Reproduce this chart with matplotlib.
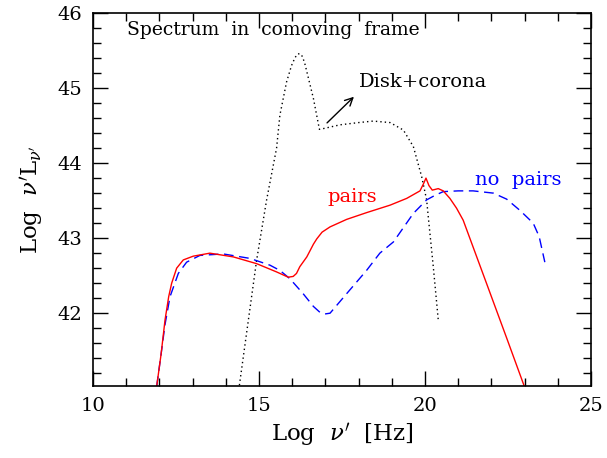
import matplotlib
matplotlib.use('Agg')
import matplotlib.pyplot as plt
from matplotlib.ticker import MultipleLocator

plt.rcParams['font.family'] = 'DejaVu Serif'
plt.rcParams['mathtext.fontset'] = 'dejavuserif'

# --- data (log nu, log nuL_nu) ---
pairs_x = [11.92, 12.05, 12.17, 12.28, 12.37, 12.52, 12.72, 13.02, 13.52, 14.23, 14.93,
           15.53, 15.88, 16.03, 16.13, 16.23, 16.44, 16.64, 16.74, 16.9, 17.14, 17.64,
           18.24, 18.95, 19.45, 19.85, 19.95, 20.03, 20.12, 20.22, 20.4, 20.55, 20.75,
           20.95, 21.15, 21.86, 22.46, 22.98]
pairs_y = [41.03, 41.45, 41.91, 42.22, 42.40, 42.60, 42.71, 42.76, 42.80, 42.75, 42.66,
           42.55, 42.48, 42.49, 42.53, 42.62, 42.75, 42.92, 42.99, 43.08, 43.15, 43.25,
           43.34, 43.44, 43.53, 43.63, 43.72, 43.80, 43.70, 43.64, 43.66, 43.63, 43.53,
           43.40, 43.24, 42.39, 41.67, 41.04]

nopairs_x = [11.92, 12.05, 12.17, 12.32, 12.57, 12.82, 13.22, 13.92, 14.73, 15.33, 15.63,
             15.93, 16.33, 16.64, 16.84, 16.99, 17.14, 17.64, 18.24, 18.64, 19.05, 19.65,
             20.05, 20.3, 20.55, 21.0, 21.45, 22.06, 22.46, 22.86, 23.26, 23.44, 23.61]
nopairs_y = [41.03, 41.45, 41.85, 42.22, 42.53, 42.68, 42.77, 42.79, 42.73, 42.64, 42.57,
             42.46, 42.26, 42.09, 42.01, 41.99, 42.00, 42.26, 42.57, 42.80, 42.95, 43.33,
             43.51, 43.57, 43.62, 43.63, 43.63, 43.60, 43.52, 43.37, 43.20, 43.02, 42.68]

disk_x = [14.41, 14.93, 15.23, 15.53, 15.63, 15.83, 15.98, 16.08, 16.15, 16.23, 16.31,
          16.39, 16.64, 16.82, 16.94, 17.44, 18.0, 18.44, 18.95, 19.35, 19.65, 19.90,
          20.05, 20.10, 20.25, 20.40]
disk_y = [41.04, 42.71, 43.51, 44.20, 44.64, 45.08, 45.30, 45.40, 45.45, 45.46, 45.42,
          45.31, 44.86, 44.45, 44.46, 44.51, 44.54, 44.56, 44.54, 44.44, 44.22, 43.82,
          43.51, 43.28, 42.62, 41.91]

fig = plt.figure(figsize=(6.07, 4.58), dpi=100)
ax = fig.add_axes([0.1532, 0.1572, 0.8204, 0.8144])

ax.plot(disk_x, disk_y, color='black', lw=1.0, linestyle=(0, (1, 2.2)))
ax.plot(nopairs_x, nopairs_y, color='blue', lw=1.0, linestyle=(0, (7, 4)))
ax.plot(pairs_x, pairs_y, color='red', lw=1.0)

ax.annotate('', xy=(17.92, 44.91), xytext=(16.99, 44.51),
            arrowprops=dict(arrowstyle='->', color='black', lw=1.0, mutation_scale=14))

ax.text(11.02, 45.77, 'Spectrum  in  comoving  frame', fontsize=13.5, va='center', ha='left')
ax.text(18.02, 45.08, 'Disk+corona', fontsize=14, va='center', ha='left')
ax.text(17.8, 43.55, 'pairs', fontsize=14, va='center', ha='center', color='red')
ax.text(21.5, 43.77, 'no  pairs', fontsize=14, va='center', ha='left', color='blue')

ax.set_xlim(10, 25)
ax.set_ylim(41.03, 46)
ax.xaxis.set_major_locator(MultipleLocator(5))
ax.xaxis.set_minor_locator(MultipleLocator(1))
ax.yaxis.set_major_locator(MultipleLocator(1))
ax.yaxis.set_minor_locator(MultipleLocator(0.2))
ax.tick_params(which='both', direction='in', top=True, right=True, labelsize=14, width=1.0)
ax.tick_params(which='major', length=11, pad=8)
ax.tick_params(which='minor', length=5.5)
ax.set_yticks([42, 43, 44, 45, 46])
for s in ax.spines.values():
    s.set_linewidth(1.2)

ax.set_xlabel(r"Log  $\nu'$  [Hz]", fontsize=16.5, labelpad=5)
ax.set_ylabel(r"Log  $\nu'\mathrm{L}_{\nu'}$", fontsize=16.5, labelpad=8)

fig.savefig('out.png', dpi=100)
